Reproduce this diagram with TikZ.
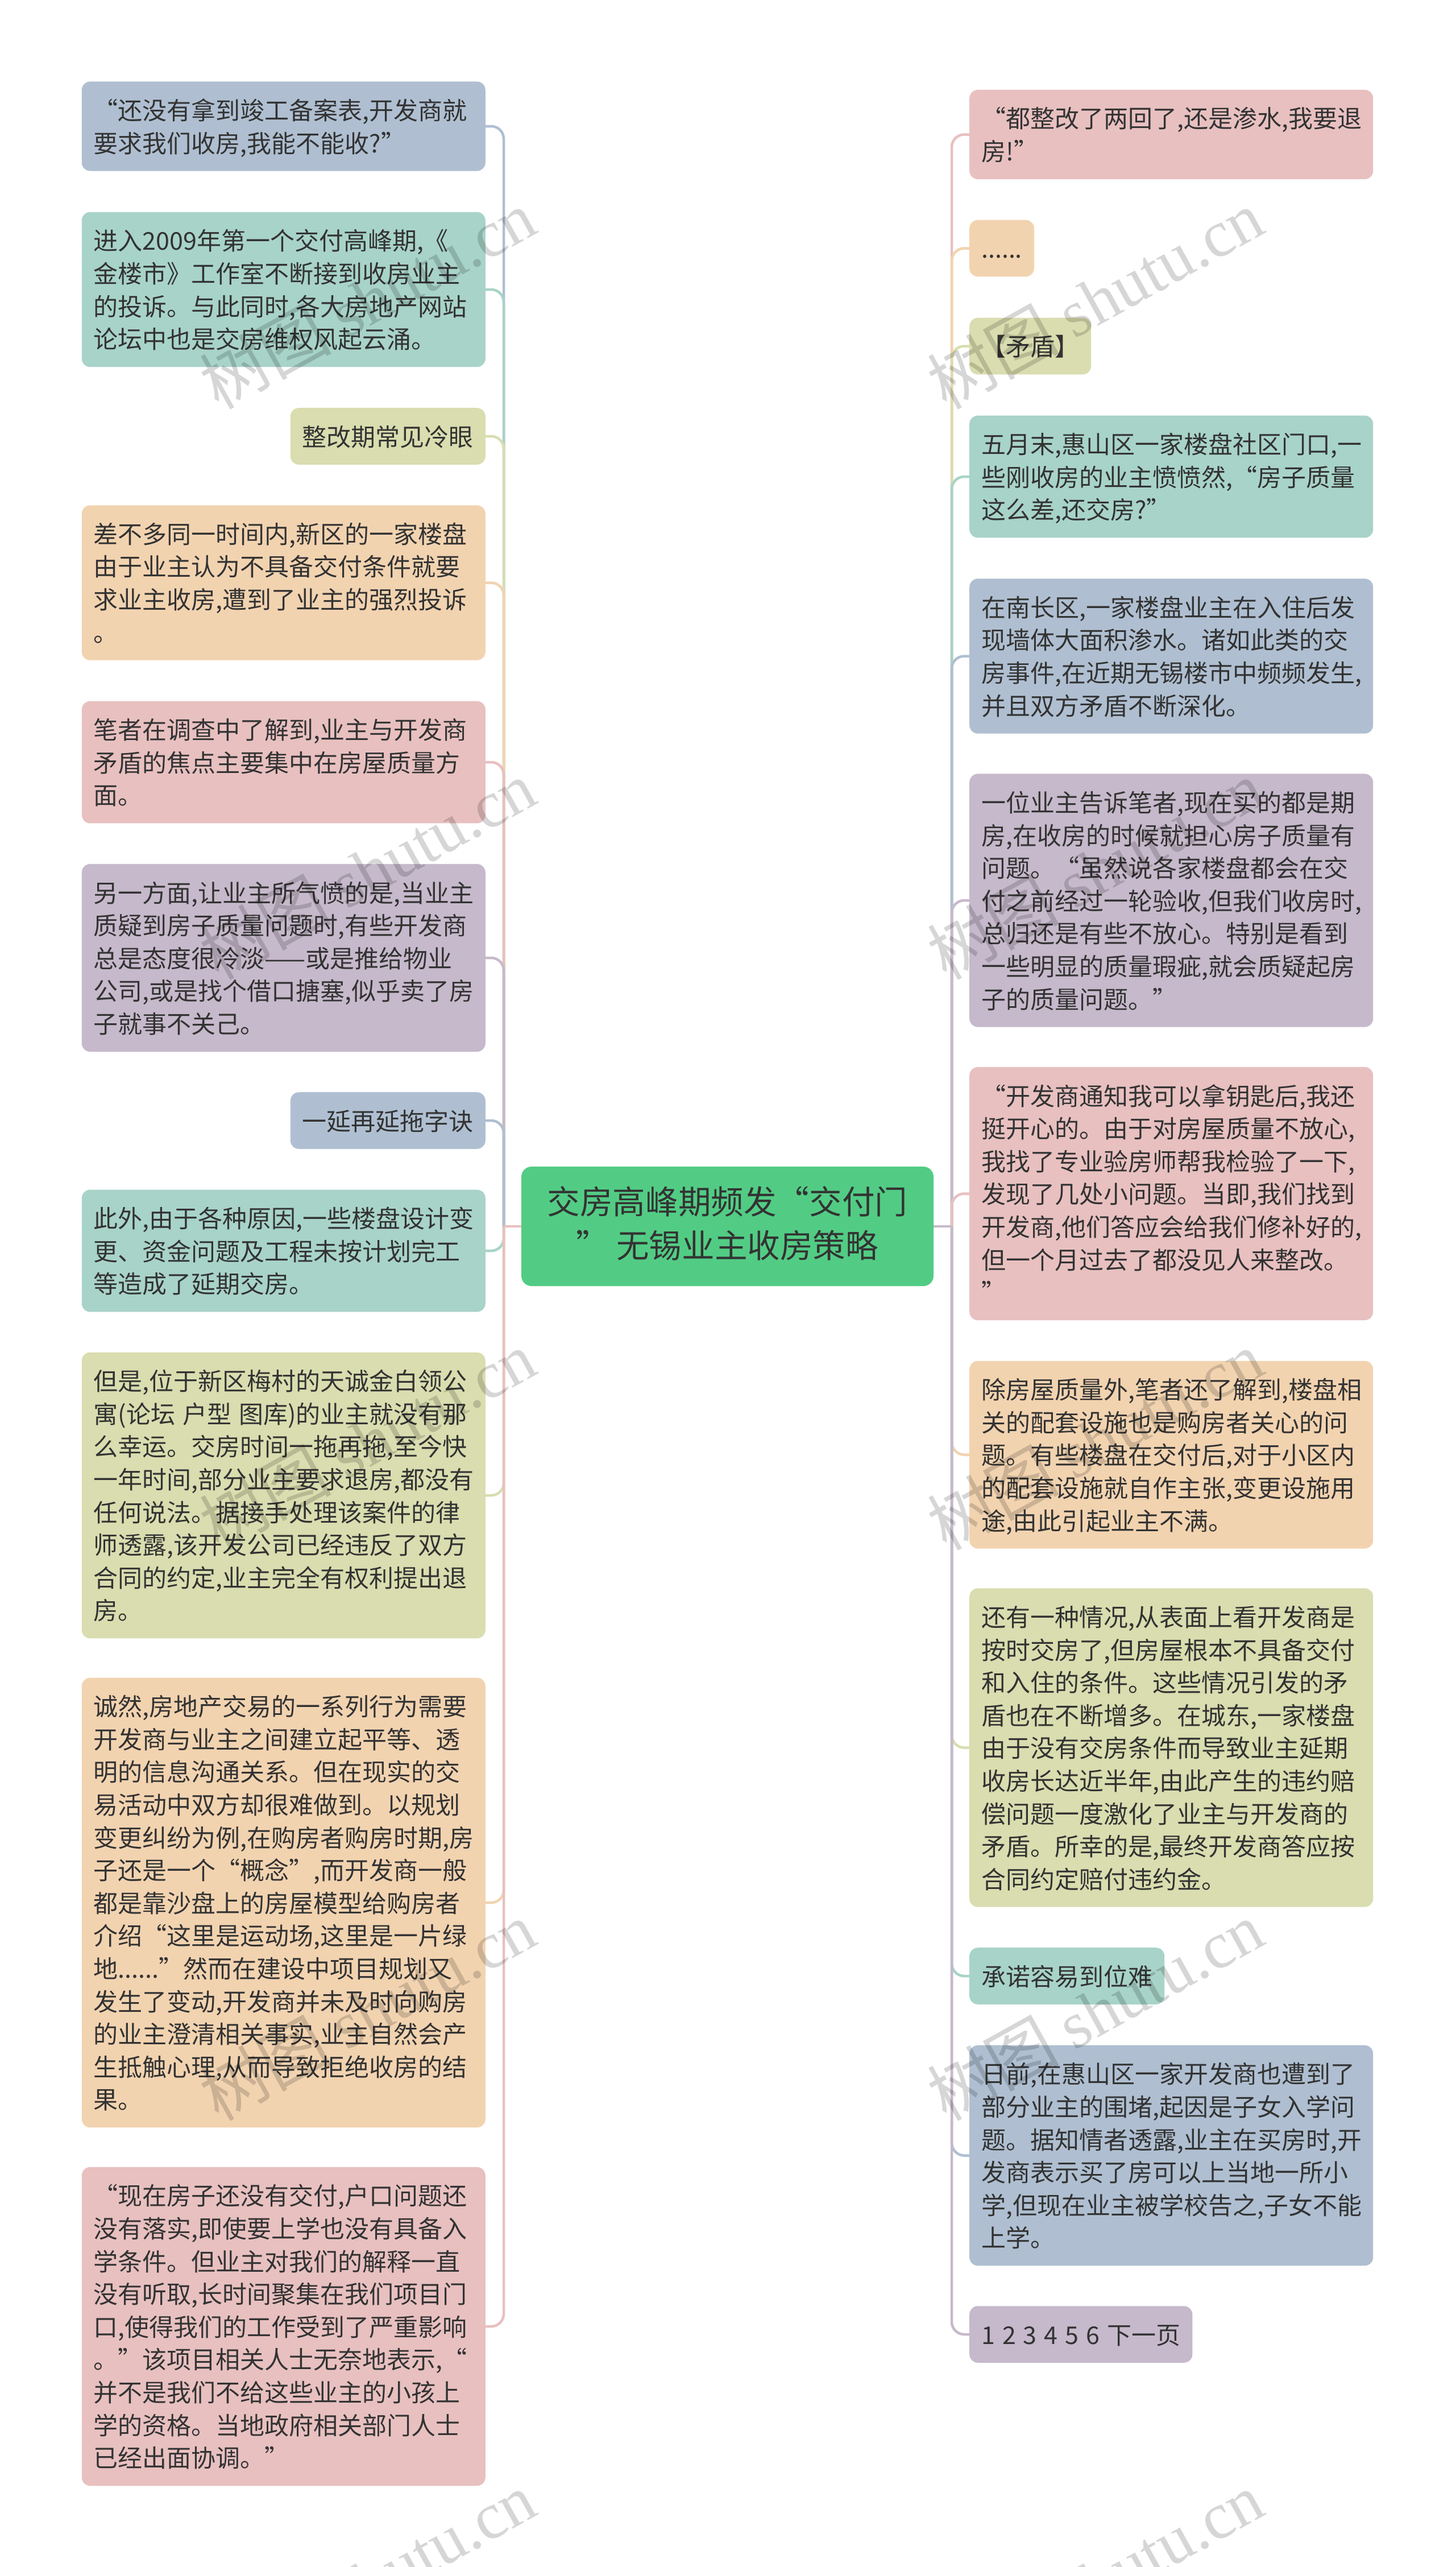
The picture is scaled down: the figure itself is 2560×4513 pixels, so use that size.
\documentclass[tikz,border=0pt]{standalone}
\usepackage{fontspec}
\setmainfont{Noto Sans CJK SC}
\newfontfamily\wmlatin{Liberation Serif}
\definecolor{cblue}{HTML}{AFBFD1}
\definecolor{cteal}{HTML}{A8D3C8}
\definecolor{colive}{HTML}{D9DDAF}
\definecolor{corange}{HTML}{F2D3B0}
\definecolor{cpink}{HTML}{E8C0C0}
\definecolor{cplum}{HTML}{C6B9CB}
\definecolor{cgreen}{HTML}{52CC84}
\definecolor{ink}{HTML}{333333}
\newcommand{\linestrut}{\spaceskip=13pt\rule[-.2\baselineskip]{0pt}{\baselineskip}}
\tikzset{
  item/.style={rounded corners=15pt,inner xsep=21pt,inner ysep=21pt,align=left,text=ink,
    font=\fontsize{43}{57.6}\selectfont,
    execute at begin node=\linestrut,execute at end node=\linestrut},
  wide/.style={text width=668pt},
  lbox/.style={item,anchor=east},
  rbox/.style={item,anchor=west},
  branch/.style={line width=4.5pt,rounded corners=22pt},
  mark wm/.style={text=black,opacity=.16,rotate=29,font=\fontsize{116}{116}\selectfont}
}
\begin{document}
\begin{tikzpicture}[x=1pt,y=-1pt]
\useasboundingbox (0,0) rectangle (2560,4513);
\node[item,fill=cgreen,minimum width=725pt,minimum height=210pt,rounded corners=18pt,align=center,text=black!80,
  font=\fontsize{57.6}{76.8}\selectfont] (root) at (1279.5,2156) {交房高峰期频发“交付门\\” 无锡业主收房策略};
\coordinate (hubL) at (886,2156);
\coordinate (hubR) at (1674,2156);
\node[lbox,wide,fill=cblue] (l1) at (854,222) {“还没有拿到竣工备案表,开发商就\\要求我们收房,我能不能收?”};
\node[lbox,wide,fill=cteal] (l2) at (854,509) {进入2009年第一个交付高峰期,《\\金楼市》工作室不断接到收房业主\\的投诉。与此同时,各大房地产网站\\论坛中也是交房维权风起云涌。};
\node[lbox,fill=colive] (l3) at (854,767) {整改期常见冷眼};
\node[lbox,wide,fill=corange] (l4) at (854,1024.5) {差不多同一时间内,新区的一家楼盘\\由于业主认为不具备交付条件就要\\求业主收房,遭到了业主的强烈投诉\\。};
\node[lbox,wide,fill=cpink] (l5) at (854,1340) {笔者在调查中了解到,业主与开发商\\矛盾的焦点主要集中在房屋质量方\\面。};
\node[lbox,wide,fill=cplum] (l6) at (854,1684) {另一方面,让业主所气愤的是,当业主\\质疑到房子质量问题时,有些开发商\\总是态度很冷淡——或是推给物业\\公司,或是找个借口搪塞,似乎卖了房\\子就事不关己。};
\node[lbox,fill=cblue] (l7) at (854,1970) {一延再延拖字诀};
\node[lbox,wide,fill=cteal] (l8) at (854,2199) {此外,由于各种原因,一些楼盘设计变\\更、资金问题及工程未按计划完工\\等造成了延期交房。};
\node[lbox,wide,fill=colive] (l9) at (854,2629) {但是,位于新区梅村的天诚金白领公\\寓(论坛 户型 图库)的业主就没有那\\么幸运。交房时间一拖再拖,至今快\\一年时间,部分业主要求退房,都没有\\任何说法。据接手处理该案件的律\\师透露,该开发公司已经违反了双方\\合同的约定,业主完全有权利提出退\\房。};
\node[lbox,wide,fill=corange] (l10) at (854,3345) {诚然,房地产交易的一系列行为需要\\开发商与业主之间建立起平等、透\\明的信息沟通关系。但在现实的交\\易活动中双方却很难做到。以规划\\变更纠纷为例,在购房者购房时期,房\\子还是一个“概念”,而开发商一般\\都是靠沙盘上的房屋模型给购房者\\介绍“这里是运动场,这里是一片绿\\地......”然而在建设中项目规划又\\发生了变动,开发商并未及时向购房\\的业主澄清相关事实,业主自然会产\\生抵触心理,从而导致拒绝收房的结\\果。};
\node[lbox,wide,fill=cpink] (l11) at (854,4090) {“现在房子还没有交付,户口问题还\\没有落实,即使要上学也没有具备入\\学条件。但业主对我们的解释一直\\没有听取,长时间聚集在我们项目门\\口,使得我们的工作受到了严重影响\\。”该项目相关人士无奈地表示,“\\并不是我们不给这些业主的小孩上\\学的资格。当地政府相关部门人士\\已经出面协调。”};
\node[rbox,wide,fill=cpink] (r1) at (1705,236.5) {“都整改了两回了,还是渗水,我要退\\房!”};
\node[rbox,fill=corange] (r2) at (1705,436.5) {......};
\node[rbox,fill=colive] (r3) at (1705,608.5) {【矛盾】};
\node[rbox,wide,fill=cteal] (r4) at (1705,838) {五月末,惠山区一家楼盘社区门口,一\\些刚收房的业主愤愤然,“房子质量\\这么差,还交房?”};
\node[rbox,wide,fill=cblue] (r5) at (1705,1153.5) {在南长区,一家楼盘业主在入住后发\\现墙体大面积渗水。诸如此类的交\\房事件,在近期无锡楼市中频频发生,\\并且双方矛盾不断深化。};
\node[rbox,wide,fill=cplum] (r6) at (1705,1583) {一位业主告诉笔者,现在买的都是期\\房,在收房的时候就担心房子质量有\\问题。“虽然说各家楼盘都会在交\\付之前经过一轮验收,但我们收房时,\\总归还是有些不放心。特别是看到\\一些明显的质量瑕疵,就会质疑起房\\子的质量问题。”};
\node[rbox,wide,fill=cpink] (r7) at (1705,2098.5) {“开发商通知我可以拿钥匙后,我还\\挺开心的。由于对房屋质量不放心,\\我找了专业验房师帮我检验了一下,\\发现了几处小问题。当即,我们找到\\开发商,他们答应会给我们修补好的,\\但一个月过去了都没见人来整改。\\”};
\node[rbox,wide,fill=corange] (r8) at (1705,2557.5) {除房屋质量外,笔者还了解到,楼盘相\\关的配套设施也是购房者关心的问\\题。有些楼盘在交付后,对于小区内\\的配套设施就自作主张,变更设施用\\途,由此引起业主不满。};
\node[rbox,wide,fill=colive] (r9) at (1705,3072.5) {还有一种情况,从表面上看开发商是\\按时交房了,但房屋根本不具备交付\\和入住的条件。这些情况引发的矛\\盾也在不断增多。在城东,一家楼盘\\由于没有交房条件而导致业主延期\\收房长达近半年,由此产生的违约赔\\偿问题一度激化了业主与开发商的\\矛盾。所幸的是,最终开发商答应按\\合同约定赔付违约金。};
\node[rbox,fill=cteal] (r10) at (1705,3474) {承诺容易到位难};
\node[rbox,wide,fill=cblue] (r11) at (1705,3789.5) {日前,在惠山区一家开发商也遭到了\\部分业主的围堵,起因是子女入学问\\题。据知情者透露,业主在买房时,开\\发商表示买了房可以上当地一所小\\学,但现在业主被学校告之,子女不能\\上学。};
\node[rbox,fill=cplum] (r12) at (1705,4104) {1 2 3 4 5 6 下一页};
\foreach \n/\c in {l1/cblue,l2/cteal,l3/colive,l4/corange,l5/cpink,l6/cplum,l7/cblue,l8/cteal,l9/colive,l10/corange,l11/cpink} { \draw[branch,\c] (hubL) |- (\n.east); }
\foreach \n/\c in {r1/cpink,r2/corange,r3/colive,r4/cteal,r5/cblue,r6/cplum,r7/cpink,r8/corange,r9/colive,r10/cteal,r11/cblue,r12/cplum} { \draw[branch,\c] (hubR) |- (\n.west); }
\draw[branch,cpink] (root.west) -- (hubL);
\draw[branch,cplum] (root.east) -- (hubR);
\foreach \k in {0,1,2,3,4} {
  \node[mark wm] (wmL\k) at (646,{526+1003*\k}) {树图 {\wmlatin shutu.cn}};
  \node[mark wm] (wmR\k) at (1926,{526+1003*\k}) {树图 {\wmlatin shutu.cn}};
}
\end{tikzpicture}
\end{document}
